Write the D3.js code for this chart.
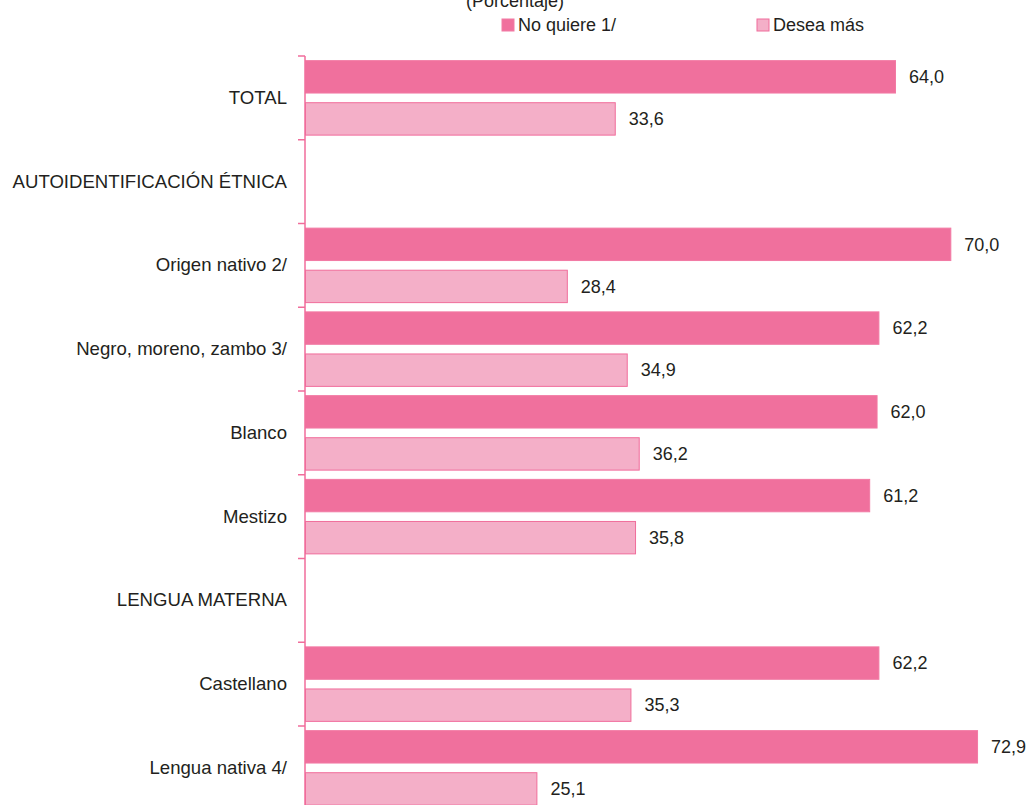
<!DOCTYPE html>
<html>
<head>
<meta charset="utf-8">
<script src="https://cdn.jsdelivr.net/npm/d3@7"></script>
<style>
  body { margin: 0; background: #fff; }
  text { font-family: "Liberation Sans", Arial, sans-serif; fill: #231f20; }
</style>
</head>
<body>
<div id="chart"></div>
<script>
// categories top to bottom (section headers have no values)
const categories = ['TOTAL', 'AUTOIDENTIFICACIÓN ÉTNICA', 'Origen nativo 2/', 'Negro, moreno, zambo 3/',
  'Blanco', 'Mestizo', 'LENGUA MATERNA', 'Castellano', 'Lengua nativa 4/'];
const seriesNames = ['No quiere 1/', 'Desea más'];
const noQuiere = [64.0, null, 70.0, 62.2, 62.0, 61.2, null, 62.2, 72.9];
const deseaMas = [33.6, null, 28.4, 34.9, 36.2, 35.8, null, 35.3, 25.1];
const colors = ['#f0709d', '#f4afc8'];
const strokes = ['#f27aa4', '#f06d9b'];

const width = 1029, height = 805;
const axisX = 305, plotTop = 56, band = 83.75;
const fontSize = '18px';

const svg = d3.select('#chart').append('svg')
  .attr('width', width)
  .attr('height', height);

const x = d3.scaleLinear().domain([0, 64]).range([axisX, 895]);
const y = d3.scaleBand().domain(categories).range([plotTop, plotTop + band * categories.length]);
const ys = d3.scaleBand().domain(seriesNames).range([0, band]).paddingInner(0.23).paddingOuter(0.11);

const fmt = v => d3.format('.1f')(v).replace('.', ',');

// title (cut off at the top)
svg.append('text')
  .attr('x', 515).attr('y', 7)
  .attr('text-anchor', 'middle')
  .style('font-size', fontSize)
  .text('(Porcentaje)');

// legend
const legendX = [502, 757];
seriesNames.forEach((s, i) => {
  svg.append('rect')
    .attr('x', legendX[i]).attr('y', 19)
    .attr('width', 12).attr('height', 12)
    .attr('fill', colors[i]).attr('stroke', strokes[i]).attr('stroke-width', 1);
  svg.append('text')
    .attr('x', legendX[i] + 16).attr('y', 31)
    .style('font-size', fontSize)
    .text(s);
});

// bars
const rows = categories.map((c, i) => ({cat: c, vals: [noQuiere[i], deseaMas[i]]}));
const g = svg.selectAll('.row').data(rows).enter().append('g')
  .attr('class', 'row')
  .attr('transform', d => 'translate(0,' + y(d.cat) + ')');

seriesNames.forEach((s, si) => {
  const withVal = g.filter(d => d.vals[si] != null);
  withVal.append('rect')
    .attr('x', axisX + 0.5)
    .attr('y', ys(s))
    .attr('width', d => x(d.vals[si]) - axisX)
    .attr('height', ys.bandwidth())
    .attr('fill', colors[si])
    .attr('stroke', strokes[si])
    .attr('stroke-width', 1);
  withVal.append('text')
    .attr('x', d => x(d.vals[si]) + 14)
    .attr('y', ys(s) + ys.bandwidth() / 2)
    .attr('dy', '0.35em')
    .style('font-size', fontSize)
    .text(d => fmt(d.vals[si]));
});

// category axis
const axis = svg.append('g')
  .attr('transform', 'translate(' + axisX + ',0)')
  .call(d3.axisLeft(y).tickSize(0).tickPadding(18));
axis.select('.domain').remove();
axis.selectAll('text')
  .style('font-size', '18.6px')
  .style('font-family', '"Liberation Sans", Arial, sans-serif')
  .attr('fill', '#231f20');

svg.append('line')
  .attr('x1', axisX).attr('x2', axisX)
  .attr('y1', plotTop).attr('y2', height)
  .attr('stroke', '#f06d9b').attr('stroke-width', 1.5);

svg.selectAll('.tickline')
  .data(d3.range(categories.length + 1))
  .enter().append('line')
  .attr('class', 'tickline')
  .attr('x1', axisX - 7).attr('x2', axisX)
  .attr('y1', i => plotTop + i * band).attr('y2', i => plotTop + i * band)
  .attr('stroke', '#f06d9b').attr('stroke-width', 1.5);
</script>
</body>
</html>
